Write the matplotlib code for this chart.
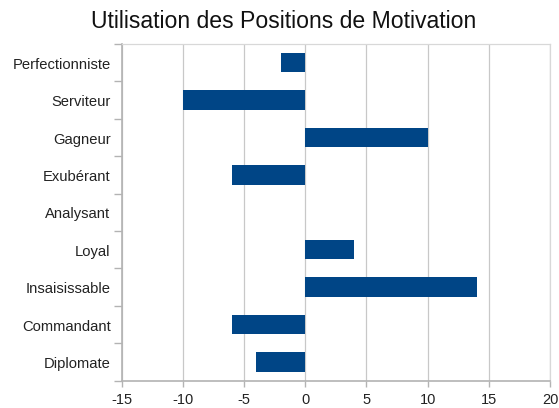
import matplotlib
matplotlib.use("Agg")
import matplotlib.pyplot as plt
import matplotlib.transforms as mtransforms
import numpy as np

categories = ["Perfectionniste", "Serviteur", "Gagneur", "Exubérant", "Analysant",
              "Loyal", "Insaisissable", "Commandant", "Diplomate"]
values = [-2, -10, 10, -6, 0, 4, 14, -6, -4]
xticks = [-15, -10, -5, 0, 5, 10, 15, 20]
title = "Utilisation des Positions de Motivation"

plt.rcParams['font.family'] = ['Liberation Sans', 'DejaVu Sans']

W, H = 559, 408
fig = plt.figure(figsize=(W / 100, H / 100), dpi=100)
left, right, top, bottom = 121.7, 550, 44, 380.7
ax = fig.add_axes([left / W, 1 - bottom / H, (right - left) / W, (bottom - top) / H])

n = len(categories)
y = np.arange(n)
ax.barh(y, values, height=0.52, color="#004586", zorder=3)
ax.set_ylim(n - 0.5, -0.5)
ax.set_xlim(-15, 20)
ax.set_xticks(xticks)
ax.set_xticklabels([str(v) for v in xticks], fontsize=10.5, color="#222222")
ax.set_yticks(y)
ax.set_yticklabels(categories, fontsize=10.6, color="#222222", va='center')
ax.tick_params(axis='y', length=0, pad=8)
offset = mtransforms.ScaledTranslation(0, -2 / 100, fig.dpi_scale_trans)
for lbl in ax.get_yticklabels():
    lbl.set_transform(lbl.get_transform() + offset)
ax.set_yticks(np.arange(n + 1) - 0.5, minor=True)
ax.tick_params(axis='y', which='minor', length=6, color="#b3b3b3", width=1)
ax.tick_params(axis='x', length=4, color="#b3b3b3", width=1, pad=5)

ax.grid(axis='x', color="#c8c8c8", linewidth=0.9, zorder=0)
for side in ['top', 'right']:
    ax.spines[side].set_color("#d8d8d8")
    ax.spines[side].set_linewidth(0.9)
for side in ['left', 'bottom']:
    ax.spines[side].set_color("#b3b3b3")
    ax.spines[side].set_linewidth(1.2)

fig.text(283.5 / W, 1 - 22 / H, title, ha='center', va='center',
         fontsize=16.6, color="#111111")

fig.savefig("out.png", dpi=100)
